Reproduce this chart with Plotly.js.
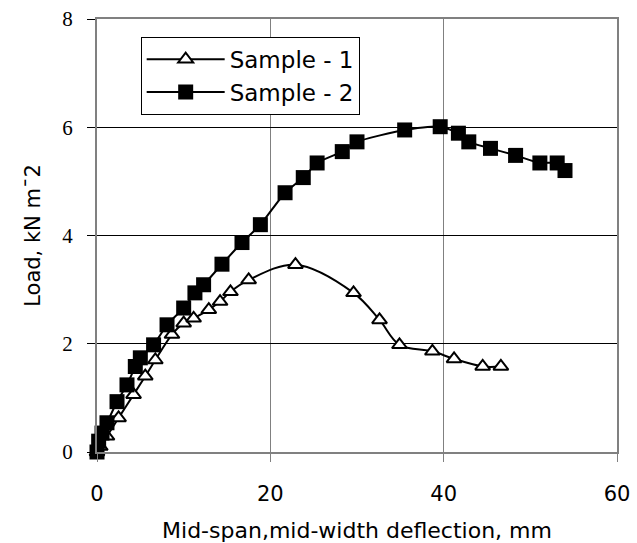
<!DOCTYPE html>
<html>
<head>
<meta charset="utf-8">
<script src="https://cdn.plot.ly/plotly-3.0.1.min.js"></script>
<style>html,body{margin:0;padding:0;background:#fff}#chart{width:637px;height:543px}</style>
</head>
<body>
<div id="chart"></div>
<script>
const sample1X = [0, 0.38, 1.15, 2.49, 4.22, 5.57, 6.73, 8.65, 10.0, 11.15, 12.9, 14.2, 15.4, 17.5, 22.9, 29.6, 32.6, 34.9, 38.7, 41.2, 44.5, 46.6];
const sample1Y = [0, 0.10, 0.29, 0.63, 1.06, 1.40, 1.70, 2.17, 2.38, 2.47, 2.63, 2.78, 2.96, 3.18, 3.46, 2.94, 2.44, 1.98, 1.86, 1.72, 1.58, 1.58];
const sample2X = [0, 0.19, 0.58, 1.15, 2.31, 3.46, 4.42, 5.0, 6.53, 8.08, 10.0, 11.3, 12.3, 14.42, 16.73, 18.85, 21.7, 23.8, 25.4, 28.3, 30.0, 35.5, 39.6, 41.7, 42.9, 45.4, 48.3, 51.1, 53.1, 54.0];
const sample2Y = [0, 0.20, 0.35, 0.54, 0.93, 1.24, 1.58, 1.74, 1.98, 2.35, 2.66, 2.94, 3.09, 3.47, 3.87, 4.20, 4.79, 5.07, 5.34, 5.55, 5.73, 5.95, 6.01, 5.89, 5.73, 5.61, 5.48, 5.34, 5.34, 5.20];
const seriesNames = ["Sample - 1", "Sample - 2"];
const xTicks = [0, 20, 40, 60];
const yTicks = [0, 2, 4, 6, 8];

const sansFont = "DejaVu Sans, sans-serif";
const traces = [
  {x: sample1X, y: sample1Y, name: seriesNames[0], legendgroup: "a", type: "scatter", mode: "lines+markers",
   cliponaxis: false,
   line: {color: "#000", width: 2, shape: "spline", smoothing: 1},
   marker: {symbol: "triangle-up", size: 13, color: "#fff", line: {color: "#000", width: 2}}},
  {x: sample2X, y: sample2Y, name: seriesNames[1], legendgroup: "b", type: "scatter", mode: "lines+markers",
   cliponaxis: false,
   line: {color: "#000", width: 2, shape: "spline", smoothing: 0.6},
   marker: {symbol: "square", size: 15, color: "#000", line: {color: "#000", width: 0}}}
];
const layout = {
  width: 637, height: 543,
  margin: {l: 97, r: 20, t: 19, b: 91},
  paper_bgcolor: "#fff", plot_bgcolor: "#fff",
  showlegend: true,
  legend: {x: 0.084, y: 0.959, xanchor: "left", yanchor: "top", bgcolor: "#fff",
    bordercolor: "#000", borderwidth: 1, traceorder: "grouped", tracegroupgap: 0,
    itemwidth: 78,
    font: {family: sansFont, size: 23, color: "#000"}},
  xaxis: {range: [0, 60], tickvals: xTicks, ticktext: xTicks.map(String),
    showgrid: true, gridcolor: "#808080", gridwidth: 1, zeroline: false,
    showline: true, linecolor: "#808080", linewidth: 2, mirror: true,
    ticks: "outside", ticklen: 8, tickcolor: "#808080", tickwidth: 1,
    ticklabelstandoff: 14,
    tickfont: {family: sansFont, size: 21, color: "#000"},
    title: {text: "Mid-span,mid-width deflection, mm", font: {family: sansFont, size: 22, color: "#000"}, standoff: 17}},
  yaxis: {range: [0, 8], tickvals: yTicks, ticktext: yTicks.map(String),
    showgrid: true, gridcolor: "#000", gridwidth: 1, zeroline: false,
    showline: true, linecolor: "#808080", linewidth: 2, mirror: true,
    ticks: "outside", ticklen: 8, tickcolor: "#000", tickwidth: 1,
    ticklabelstandoff: 10,
    tickfont: {family: "Liberation Serif, serif", size: 21, color: "#000"},
    title: {text: "Load, kN m\u00AF2", font: {family: sansFont, size: 21, color: "#000"}, standoff: 16}}
};
Plotly.newPlot("chart", traces, layout, {displayModeBar: false, staticPlot: true});
</script>
</body>
</html>
